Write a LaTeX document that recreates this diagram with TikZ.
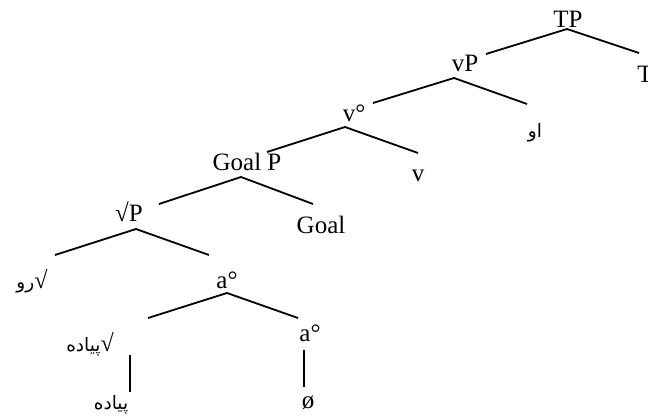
\documentclass[tikz,border=0pt]{standalone}
\usepackage{fontspec}
\setmainfont{Liberation Serif}
\newfontfamily\arabicfont[Script=Arabic]{DejaVu Sans}
\TeXXeTstate=1
\newcommand{\ar}[1]{{\fontsize{18.5}{22}\arabicfont\beginR #1\endR}}
\newcommand{\sq}{{\rmfamily\fontsize{24}{28}\selectfont √}}
\begin{document}
\begin{tikzpicture}[x=1pt,y=-1pt,
  lbl/.style={inner sep=0pt,font=\fontsize{25}{30}\selectfont},
  branch/.style={line width=1.8pt}]
\useasboundingbox (0,0) rectangle (648,418);
% labels
\node[lbl] (TP) at (568,19) {TP};
\node[lbl] (T) at (645,74) {T};
\node[lbl] (vP) at (465,63) {vP};
\node[lbl] (o) at (535,133) {\ar{او}};
\node[lbl] (vo) at (354,113) {v°};
\node[lbl] (v) at (418,176) {v};
\node[lbl] (GoalP) at (247,162) {Goal P};
\node[lbl] (Goal) at (321,225) {Goal};
\node[lbl] (rP) at (129,212) {√P};
\node[lbl] (ru) at (32,281) {\ar{\sq رو}};
\node[lbl] (a1) at (227,280) {a°};
\node[lbl] (rp) at (90,344) {\ar{\sq پیاده}};
\node[lbl] (a2) at (310,333) {a°};
\node[lbl] (p) at (111,405) {\ar{پیاده}};
\node[lbl] (null) at (308,403) {ø};
% branch points
\coordinate (TPa) at (567,29); \coordinate (TPl) at (486,54); \coordinate (TPr) at (639,53);
\coordinate (vPa) at (454,78); \coordinate (vPl) at (373,103); \coordinate (vPr) at (527,104);
\coordinate (voa) at (345,127); \coordinate (vol) at (267,152); \coordinate (vor) at (418,153);
\coordinate (GPa) at (241,177); \coordinate (GPl) at (159,204); \coordinate (GPr) at (313,204);
\coordinate (rPa) at (136,229); \coordinate (rPl) at (55,255); \coordinate (rPr) at (209,255);
\coordinate (a1a) at (227,293); \coordinate (a1l) at (148,318); \coordinate (a1r) at (298,318);
\coordinate (rpa) at (130,355); \coordinate (rpb) at (130,392);
\coordinate (a2a) at (304,350); \coordinate (a2b) at (304,387);
% branches
\draw[branch] (TPl) -- (TPa) -- (TPr);
\draw[branch] (vPl) -- (vPa) -- (vPr);
\draw[branch] (vol) -- (voa) -- (vor);
\draw[branch] (GPl) -- (GPa) -- (GPr);
\draw[branch] (rPl) -- (rPa) -- (rPr);
\draw[branch] (a1l) -- (a1a) -- (a1r);
\draw[branch] (rpa) -- (rpb);
\draw[branch] (a2a) -- (a2b);
\end{tikzpicture}
\end{document}
